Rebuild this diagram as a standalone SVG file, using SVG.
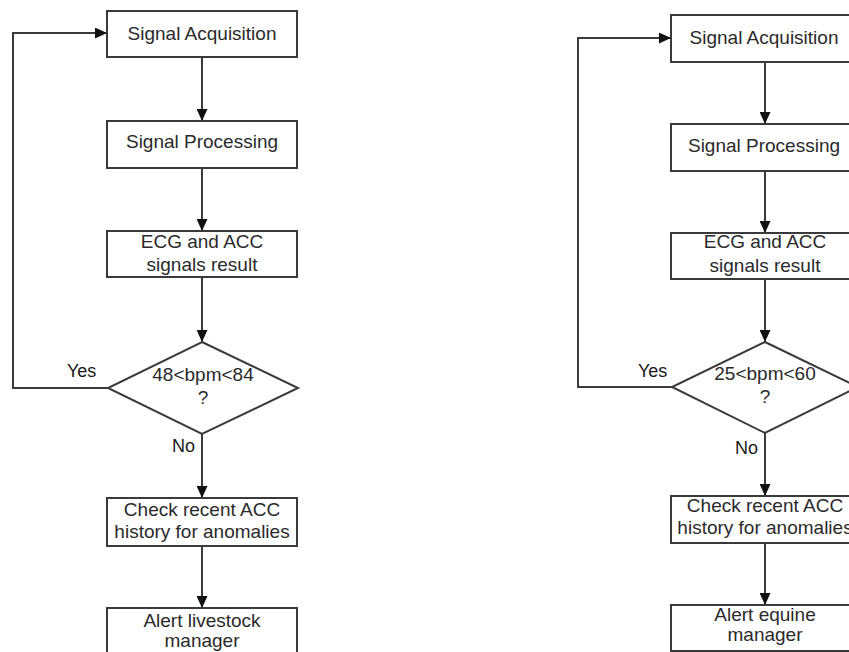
<svg xmlns="http://www.w3.org/2000/svg" width="849" height="652" viewBox="0 0 849 652">
  <defs>
    <marker id="arrow" markerUnits="userSpaceOnUse" markerWidth="12" markerHeight="11" refX="12" refY="5.5" orient="auto">
      <path d="M0,0 L12,5.5 L0,11 Z" fill="#111"/>
    </marker>
    <style>
      .box { fill: #fff; stroke: #3a3a3a; stroke-width: 2; }
      .dec { fill: #fff; stroke: #3a3a3a; stroke-width: 2; }
      .edge { fill: none; stroke: #3a3a3a; stroke-width: 2; marker-end: url(#arrow); }
      .line { fill: none; stroke: #3a3a3a; stroke-width: 2; }
      text { font-family: "Liberation Sans", Arial, sans-serif; font-size: 19px; fill: #2a2a2a; }
      .c { text-anchor: middle; }
      .lbl { font-size: 18px; fill: #1a1a1a; }
    </style>
  </defs>
  <rect width="849" height="652" fill="#fff"/>

  <!-- Livestock flow -->
  <g id="livestock-connectors">
    <path class="edge" d="M202,57 V121"/>
    <path class="edge" d="M202,168 V231"/>
    <path class="edge" d="M202,277 V342"/>
    <path class="edge" d="M202,434 V498"/>
    <path class="edge" d="M202,546 V608"/>
    <path class="edge" d="M108,388 H13 V33 H107"/>
    <text class="lbl" x="67" y="377">Yes</text>
    <text class="lbl" x="172" y="452">No</text>
  </g>
  <g id="l-acq">
    <rect class="box" x="107" y="11" width="190" height="46"/>
    <text class="c" x="202" y="40">Signal Acquisition</text>
  </g>
  <g id="l-proc">
    <rect class="box" x="107" y="121" width="190" height="47"/>
    <text class="c" x="202" y="148">Signal Processing</text>
  </g>
  <g id="l-result">
    <rect class="box" x="107" y="231" width="190" height="46"/>
    <text class="c" x="202" y="248">ECG and ACC</text>
    <text class="c" x="202" y="271">signals result</text>
  </g>
  <g id="l-decision">
    <polygon class="dec" points="202,342 298,388 202,434 108,388"/>
    <text class="c" x="203" y="381">48&lt;bpm&lt;84</text>
    <text class="c" x="203" y="404">?</text>
  </g>
  <g id="l-check">
    <rect class="box" x="107" y="498" width="190" height="48"/>
    <text class="c" x="202" y="516">Check recent ACC</text>
    <text class="c" x="202" y="538">history for anomalies</text>
  </g>
  <g id="l-alert">
    <rect class="box" x="107" y="608" width="190" height="60"/>
    <text class="c" x="202" y="627">Alert livestock</text>
    <text class="c" x="202" y="647">manager</text>
  </g>

  <!-- Equine flow -->
  <g id="equine-connectors">
    <path class="edge" d="M765,62 V124"/>
    <path class="edge" d="M765,171 V233"/>
    <path class="edge" d="M765,279 V342"/>
    <path class="edge" d="M765,433 V496"/>
    <path class="edge" d="M765,543 V605"/>
    <path class="edge" d="M672,387 H578 V38 H671"/>
    <text class="lbl" x="638" y="377">Yes</text>
    <text class="lbl" x="735" y="454">No</text>
  </g>
  <g id="r-acq">
    <rect class="box" x="671" y="15" width="188" height="47"/>
    <text class="c" x="764" y="44">Signal Acquisition</text>
  </g>
  <g id="r-proc">
    <rect class="box" x="671" y="124" width="188" height="47"/>
    <text class="c" x="764" y="152">Signal Processing</text>
  </g>
  <g id="r-result">
    <rect class="box" x="671" y="233" width="188" height="46"/>
    <text class="c" x="765" y="248">ECG and ACC</text>
    <text class="c" x="765" y="272">signals result</text>
  </g>
  <g id="r-decision">
    <polygon class="dec" points="765,342 858,387 765,433 672,387"/>
    <text class="c" x="765" y="380">25&lt;bpm&lt;60</text>
    <text class="c" x="765" y="403">?</text>
  </g>
  <g id="r-check">
    <rect class="box" x="671" y="496" width="188" height="47"/>
    <text class="c" x="765" y="512">Check recent ACC</text>
    <text class="c" x="765" y="534">history for anomalies</text>
  </g>
  <g id="r-alert">
    <rect class="box" x="671" y="605" width="188" height="46"/>
    <text class="c" x="765" y="621">Alert equine</text>
    <text class="c" x="765" y="641">manager</text>
  </g>
</svg>
